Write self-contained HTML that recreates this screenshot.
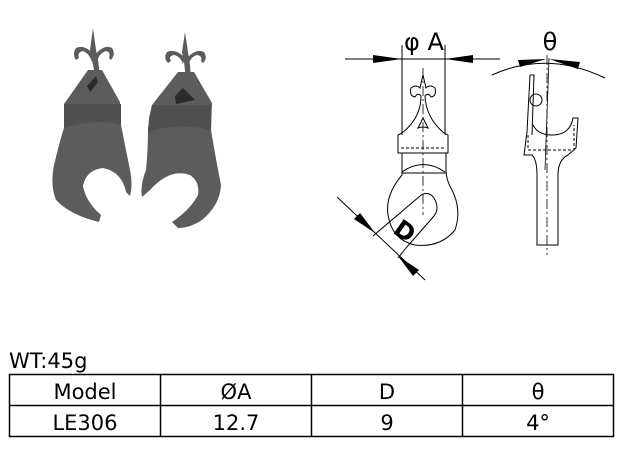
<!DOCTYPE html>
<html><head><meta charset="utf-8"><style>
body{margin:0;background:#fff;width:629px;height:451px;overflow:hidden;font-family:"Liberation Sans","DejaVu Sans",sans-serif}
svg{position:absolute;left:0;top:0}
</style></head><body>
<svg width="629" height="451" viewBox="0 0 629 451" xmlns="http://www.w3.org/2000/svg">
<!-- left photo piece -->
<g fill="#5c5c5c">
<path d="M93,28 L96,50 L98,60 L100,75 L95,75 L92,60 L90,50 Z"/>
<path d="M94,55 Q85,44 76,48 Q72,54 76,60 L79,58 Q77,52 83,51 Q89,53 92,62 Z"/>
<path d="M95,55 Q104,44 112,48 Q116,54 111,60 L109,58 Q111,52 106,51 Q99,53 97,62 Z"/>
<path d="M88,70 L102,70 L120,102 L121,125 Q126,150 130,170 Q133,185 130,196 L126,192 Q122,172 103,168 Q86,170 83,186 Q86,202 101,215 L99,222 Q70,215 56,200 Q50,185 54,165 Q60,140 64,128 L64,104 Z"/>
</g>
<path d="M64,104 L121,104 L121,125 Q95,118 64,128 Z" fill="#505050"/>
<path d="M87,86 L96,76 L98,82 L90,92 Z" fill="#2a2a2a"/>
<!-- right photo piece -->
<g fill="#5c5c5c">
<path d="M185,32 L188,52 L190,65 L191,78 L186,78 L184,62 L182,52 Z"/>
<path d="M185,58 Q176,48 167,52 Q163,58 168,63 L171,61 Q168,56 174,55 Q180,56 183,64 Z"/>
<path d="M187,58 Q196,48 204,52 Q208,58 203,63 L201,61 Q203,56 197,55 Q190,57 189,65 Z"/>
<path d="M178,72 L194,72 L212,103 L211,130 Q216,160 221,185 Q220,205 202,220 Q190,228 178,228 L172,222 Q190,210 198,195 Q200,182 190,175 Q170,168 150,190 L142,197 Q140,185 146,170 Q148,150 148,128 L152,105 Z"/>
</g>
<path d="M152,105 L211,105 L211,130 Q180,122 148,132 L149,118 Z" fill="#505050"/>
<path d="M175,96 L183,88 L195,100 L176,104 Z" fill="#2a2a2a"/>
<!-- front view drawing -->
<g stroke="#000" stroke-width="1" fill="none">
<line x1="345" y1="59" x2="500" y2="59"/>
<line x1="402" y1="45" x2="402" y2="135"/>
<line x1="445" y1="45" x2="445" y2="135"/>
<line x1="423" y1="68" x2="423" y2="215" stroke-dasharray="10,3,2,3" stroke-width="0.8"/>
<path d="M423,75 L426,88 Q430,84 435,88 Q437,96 431,97 Q428,92 425,96 Q426,118 444,133 L448,135 L448,153 L398,153 L398,135 L402,133 Q421,118 421,96 Q418,92 415,97 Q409,96 411,88 Q416,84 420,88 Z"/>
<path d="M418,128 L423,118 L428,128 Q423,126 418,128 Z"/>
<line x1="401" y1="148" x2="446" y2="148" stroke-dasharray="3,2"/>
<path d="M402,153 L402,175 Q385,195 388,215 Q392,240 415,245 Q440,248 455,230 Q462,210 452,190 Q446,180 446,170 L446,153"/>
<path d="M402,172 Q423,157 445,172"/>
<line x1="402" y1="173" x2="446" y2="173"/>
<path d="M373,236 L420,196 Q428,190 434,198 Q440,208 434,216 L406,248"/>
<line x1="406" y1="248" x2="398" y2="258"/>
<line x1="337" y1="197" x2="425" y2="280"/>
</g>
<g fill="#000">
<polygon points="373,55 402,59 373,63"/>
<polygon points="473,55 445,59 473,63"/>
<polygon points="354,219 375,233 360,213"/>
<polygon points="419,270 398,256 413,276"/>
</g>
<text x="424" y="50" font-size="24" text-anchor="middle" font-family="DejaVu Sans,sans-serif">φ A</text>
<text x="0" y="0" font-size="24" text-anchor="middle" font-weight="bold" font-family="DejaVu Sans,sans-serif" transform="translate(400,238) rotate(35)">D</text>
<!-- side view drawing -->
<g stroke="#000" stroke-width="1" fill="none">
<path d="M492,75 Q547,50 605,78"/>
<line x1="547" y1="55" x2="547" y2="255" stroke-dasharray="10,3,2,3" stroke-width="0.8"/>
<line x1="549" y1="58" x2="545" y2="170" stroke-width="0.8"/>
<path d="M530,75 L534,75 L532,135"/>
<path d="M530,75 L527,132 L524,155 L532,155 Q537,160 537,175 L537,245 L558,245 L558,175 Q558,160 568,155 L576,148 L578,118 L573,118 Q570,135 552,135 Q538,135 533,125"/>
<circle cx="536" cy="100" r="6"/>
<path d="M528,135 L528,150 L574,150 L574,125" stroke-dasharray="3,2"/>
</g>
<g fill="#000">
<polygon points="518,60 546,59 520,67"/>
<polygon points="580,62 549,59 578,69"/>
</g>
<text x="550" y="50" font-size="24" text-anchor="middle" font-family="DejaVu Sans,sans-serif">θ</text>
<!-- table -->
<text x="9" y="368" font-size="21" font-family="DejaVu Sans,sans-serif">WT:45g</text>
<g stroke="#000" stroke-width="1.5" fill="none">
<rect x="9.5" y="374.5" width="604" height="62"/>
<line x1="9" y1="405.5" x2="614" y2="405.5"/>
<line x1="160.5" y1="374" x2="160.5" y2="437"/>
<line x1="311.5" y1="374" x2="311.5" y2="437"/>
<line x1="462.5" y1="374" x2="462.5" y2="437"/>
</g>
<g font-size="21" text-anchor="middle" font-family="DejaVu Sans,sans-serif">
<text x="85" y="399">Model</text><text x="236" y="399">ØA</text><text x="387" y="399">D</text><text x="538" y="399">θ</text>
<text x="85" y="430">LE306</text><text x="236" y="430">12.7</text><text x="387" y="430">9</text><text x="538" y="430">4°</text>
</g>
</svg>
</body></html>
